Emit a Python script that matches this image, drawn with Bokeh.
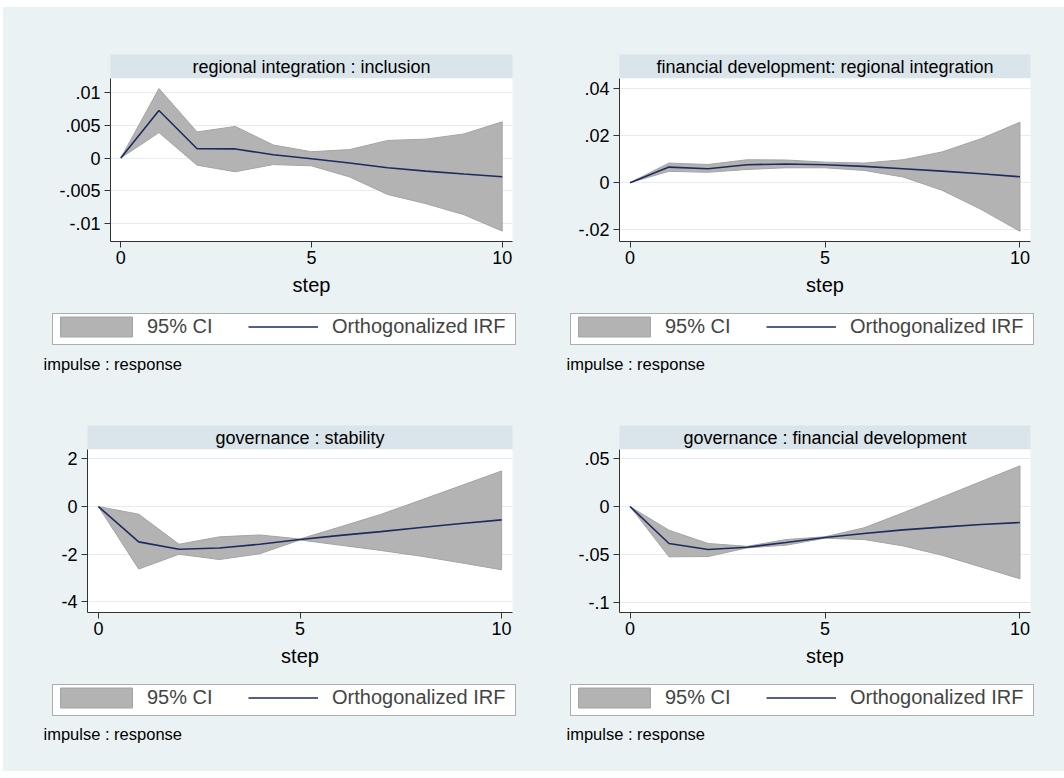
from bokeh.plotting import figure
from bokeh.layouts import column, row
from bokeh.models import (FixedTicker, Legend, LegendItem, Label, Range1d,
                          BoxAnnotation)
from bokeh.embed import file_html
from bokeh.resources import INLINE

# ---- data -----------------------------------------------------------------
steps = [0, 1, 2, 3, 4, 5, 6, 7, 8, 9, 10]
x_ticks = [0, 5, 10]

# regional integration : inclusion
irf_ri_inc = [0, 0.0073, 0.00143, 0.0014, 0.0005, -0.0001, -0.00077, -0.0015, -0.002, -0.00245, -0.00286]
up_ri_inc = [0, 0.01066, 0.0040, 0.00485, 0.0020, 0.00097, 0.0013, 0.0027, 0.0029, 0.0037, 0.00556]
lo_ri_inc = [0, 0.0039, -0.0011, -0.0021, -0.0010, -0.0012, -0.0029, -0.0056, -0.0070, -0.0087, -0.0112]
yt_ri_inc = [0.01, 0.005, 0, -0.005, -0.01]
yl_ri_inc = [".01", ".005", "0", "-.005", "-.01"]

# financial development : regional integration
irf_fd_ri = [0, 0.0066, 0.0059, 0.0076, 0.0079, 0.0076, 0.0069, 0.0059, 0.0049, 0.0038, 0.0025]
up_fd_ri = [0, 0.0083, 0.0077, 0.0097, 0.0096, 0.0087, 0.0083, 0.0097, 0.0130, 0.0186, 0.0256]
lo_fd_ri = [0, 0.0048, 0.0044, 0.0056, 0.0063, 0.0063, 0.0052, 0.0024, -0.0032, -0.0113, -0.0206]
yt_fd_ri = [0.04, 0.02, 0, -0.02]
yl_fd_ri = [".04", ".02", "0", "-.02"]

# governance : stability
irf_gov_st = [0, -1.48, -1.79, -1.74, -1.58, -1.38, -1.21, -1.05, -0.88, -0.71, -0.56]
up_gov_st = [0, -0.32, -1.58, -1.27, -1.19, -1.36, -0.85, -0.33, 0.27, 0.88, 1.49]
lo_gov_st = [0, -2.62, -2.00, -2.22, -1.98, -1.40, -1.62, -1.84, -2.08, -2.36, -2.65]
yt_gov_st = [2, 0, -2, -4]
yl_gov_st = ["2", "0", "-2", "-4"]

# governance : financial development
irf_gov_fd = [0, -0.0385, -0.0448, -0.0424, -0.0375, -0.0323, -0.0281, -0.0243, -0.0215, -0.0188, -0.0167]
up_gov_fd = [0, -0.0247, -0.0385, -0.0415, -0.0344, -0.0315, -0.0222, -0.0066, 0.0097, 0.0260, 0.0424]
lo_gov_fd = [0, -0.0524, -0.0521, -0.0431, -0.0403, -0.0330, -0.0344, -0.0410, -0.0507, -0.0630, -0.0753]
yt_gov_fd = [0.05, 0, -0.05, -0.1]
yl_gov_fd = [".05", "0", "-.05", "-.1"]

titles = ["regional integration : inclusion",
          "financial development: regional integration",
          "governance : stability",
          "governance : financial development"]
legend_labels = ["95% CI", "Orthogonalized IRF"]
note_text = "impulse : response"
x_title = "step"

# ---- styling --------------------------------------------------------------
FONT = "Liberation Sans"
BG = "#EAF2F3"
STRIP = "#D9E5EA"
GRID = "#E4EDF0"
CI_FILL = "#B3B3B3"
CI_EDGE = "#A4A4A4"
IRF_COLOR = "#1E2B5E"
AXIS = "#333333"
NAN = float("nan")

MAIN_BOTTOM = 66   # room under the plot region for tick labels and "step"
PLOT_H = 163
KEY_W = 463        # legend box size
KEY_H = 31


def bare(width, height, bl, br, bt, bb, fill):
    p = figure(width=width, height=height, title=None,
               x_range=Range1d(0, 1), y_range=Range1d(0, 1),
               x_axis_location=None, y_axis_location=None,
               output_backend="svg", toolbar_location=None,
               min_border_left=bl, min_border_right=br,
               min_border_top=bt, min_border_bottom=bb, frame_align=False)
    p.grid.visible = False
    p.border_fill_color = BG
    p.background_fill_color = fill
    p.outline_line_color = None
    return p


def key(renderer, label, gw, gh, standoff, dx, dy):
    return Legend(items=[LegendItem(label=label, renderers=[renderer])],
                  location=(dx, dy), orientation="horizontal",
                  margin=0, padding=0, spacing=0,
                  glyph_width=gw, glyph_height=gh, label_standoff=standoff,
                  label_text_font=FONT, label_text_font_size="20px",
                  label_height=gh, border_line_color=None,
                  background_fill_alpha=0)


def panel(title, irf, lower, upper, yticks, ylabels, yrange,
          width, strip_top, bl, br, box_x, box_top, note_dx, note_dy,
          total_h=382):
    # title strip
    strip_h = strip_top + 24
    s = bare(width, strip_h, bl, br, strip_top, 0, STRIP)
    s.add_layout(Label(x=0.5, y=0.5, text=title, text_align="center",
                       text_baseline="middle", text_font=FONT,
                       text_font_size="18px", text_color="black"))

    # plot region
    main_h = PLOT_H + MAIN_BOTTOM
    p = figure(width=width, height=main_h, title=None,
               x_range=Range1d(-0.27, 10.27), y_range=Range1d(*yrange),
               output_backend="svg", toolbar_location=None,
               min_border_left=bl, min_border_right=br,
               min_border_top=0, min_border_bottom=MAIN_BOTTOM,
               frame_align=False)
    p.border_fill_color = BG
    p.background_fill_color = "white"
    p.outline_line_color = None

    band_x = steps + steps[::-1]
    band_y = list(upper) + list(lower)[::-1]
    p.patch(band_x, band_y, fill_color=CI_FILL, line_color=CI_EDGE,
            line_width=1)
    p.line(steps, irf, line_color=IRF_COLOR, line_width=1.6)

    for ax in (p.xaxis[0], p.yaxis[0]):
        ax.axis_line_color = AXIS
        ax.major_tick_line_color = AXIS
        ax.major_tick_out = 6
        ax.major_tick_in = 0
        ax.minor_tick_line_color = None
        ax.major_label_text_font = FONT
        ax.major_label_text_font_size = "18px"
        ax.major_label_text_color = "black"
    p.xaxis.ticker = FixedTicker(ticks=x_ticks)
    p.xaxis.major_label_standoff = 3
    p.xaxis.axis_label = x_title
    p.xaxis.axis_label_text_font = FONT
    p.xaxis.axis_label_text_font_size = "20px"
    p.xaxis.axis_label_text_font_style = "normal"
    p.xaxis.axis_label_text_color = "black"
    p.xaxis.axis_label_standoff = 7
    p.yaxis.ticker = FixedTicker(ticks=yticks)
    p.yaxis.major_label_overrides = {v: t for v, t in zip(yticks, ylabels)}
    p.yaxis.major_label_standoff = 4

    p.xgrid.visible = False
    p.ygrid.ticker = FixedTicker(ticks=yticks)
    p.ygrid.grid_line_color = GRID
    p.ygrid.grid_line_width = 1.2

    # legend box and note underneath
    foot_h = total_h - strip_h - main_h
    f = bare(width, foot_h, 0, 0, 0, 0, BG)
    f.add_layout(BoxAnnotation(left=box_x, right=box_x + KEY_W,
                               bottom=box_top - KEY_H, top=box_top,
                               left_units="screen", right_units="screen",
                               bottom_units="screen", top_units="screen",
                               fill_color="white", fill_alpha=1,
                               line_color="black", line_width=1,
                               level="underlay"))
    key_ci = f.patch([NAN, NAN, NAN], [NAN, NAN, NAN], fill_color=CI_FILL,
                     line_color=CI_EDGE, line_width=1)
    key_ln = f.line([NAN, NAN], [NAN, NAN], line_color=IRF_COLOR,
                    line_width=1.6)
    centre = box_top - 13
    f.add_layout(key(key_ci, legend_labels[0], 90, 25, 6,
                     box_x - 1, centre - 12.5))
    f.add_layout(key(key_ln, legend_labels[1], 70, 23, 14,
                     box_x + 196, centre - 11.5))
    f.add_layout(Label(x=note_dx, y=note_dy, x_units="screen",
                       y_units="screen", text=note_text,
                       text_baseline="middle", text_font=FONT,
                       text_font_size="16.5px", text_color="black"))
    return column(s, p, f, spacing=0)


c1 = panel(titles[0], irf_ri_inc, lo_ri_inc, up_ri_inc, yt_ri_inc, yl_ri_inc,
           (-0.0128, 0.0122), 537, 47, 107, 28, 49, 76, 40, 26)
c2 = panel(titles[1], irf_fd_ri, lo_fd_ri, up_fd_ri, yt_fd_ri, yl_fd_ri,
           (-0.0249, 0.0441), 524, 47, 79, 34, 30, 76, 26, 26)
c3 = panel(titles[2], irf_gov_st, lo_gov_st, up_gov_st, yt_gov_st, yl_gov_st,
           (-4.44, 2.39), 537, 36, 84, 28, 49, 87, 40, 38)
c4 = panel(titles[3], irf_gov_fd, lo_gov_fd, up_gov_fd, yt_gov_fd, yl_gov_fd,
           (-0.1104, 0.0594), 524, 36, 79, 34, 30, 87, 26, 38)

layout = column(row(c1, c2, spacing=0), row(c3, c4, spacing=0), spacing=0,
                margin=(7, 0, 0, 3), styles={"background-color": BG})

with open("out.html", "w") as fh:
    fh.write(file_html(layout, INLINE))
